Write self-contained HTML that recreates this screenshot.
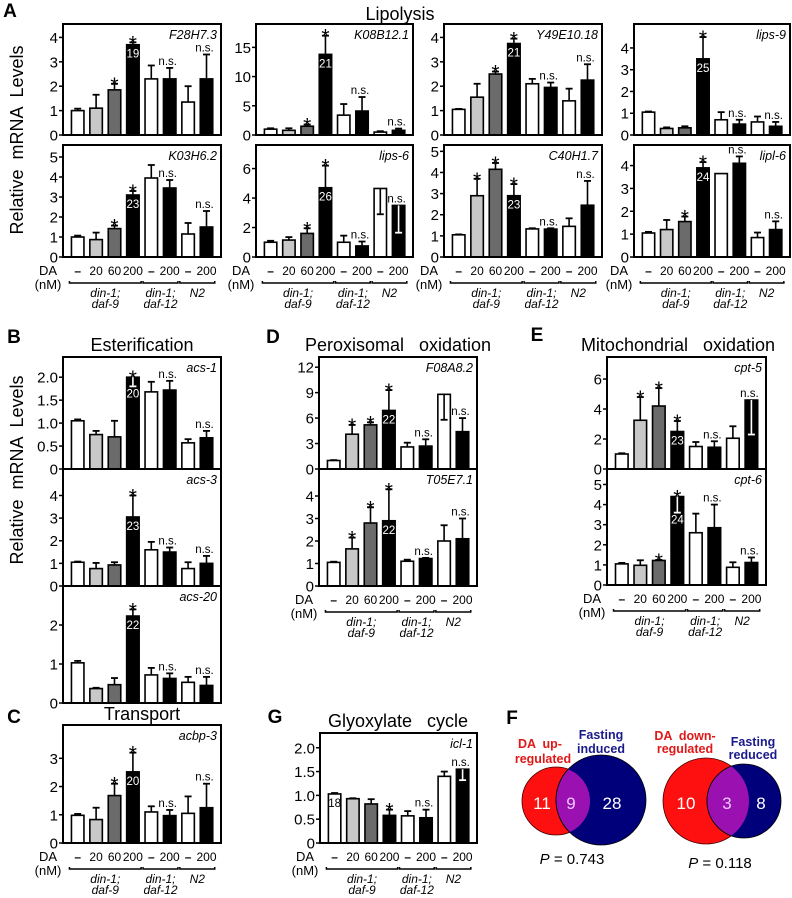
<!DOCTYPE html>
<html><head><meta charset="utf-8">
<style>
html,body{margin:0;padding:0;background:#fff;}
svg{display:block;font-family:"Liberation Sans",Arial,sans-serif;}
.pre{white-space:pre;}
</style></head>
<body>
<svg id="fig" width="792" height="898" viewBox="0 0 792 898" xmlns="http://www.w3.org/2000/svg"></svg>
<script>
// ---- data arrays ----
const f28Values=[1.0,1.1,1.85,3.7,2.3,2.3,1.35,2.3];
const f28Errors=[0.08,0.55,0.25,0.1,0.55,0.45,0.65,1.0];
const k08Values=[1.0,0.8,1.5,13.8,3.4,4.1,0.5,0.8];
const k08Errors=[0.15,0.35,0.3,3.2,1.9,2.4,0.15,0.3];
const y49Values=[1.05,1.55,2.5,3.75,2.1,1.95,1.4,2.25];
const y49Errors=[0.02,0.55,0.1,0.2,0.2,0.2,0.5,0.65];
const lips9Values=[1.05,0.3,0.33,3.5,0.7,0.5,0.6,0.4];
const lips9Errors=[0.03,0.05,0.07,1.0,0.35,0.2,0.25,0.2];
const k03Values=[1.0,0.87,1.42,3.1,3.95,3.45,1.15,1.5];
const k03Errors=[0.07,0.35,0.15,0.2,0.65,0.4,0.55,0.8];
const lips6Values=[1.0,1.15,1.6,4.7,1.0,0.75,4.65,3.5];
const lips6Errors=[0.1,0.2,0.35,1.5,0.45,0.3,-1.75,-1.85];
const c40Values=[1.05,2.9,4.15,2.9,1.33,1.32,1.45,2.45];
const c40Errors=[0.02,0.8,0.3,0.55,0.03,0.04,0.38,1.15];
const lipl6Values=[1.05,1.2,1.55,3.9,3.65,4.1,0.85,1.2];
const lipl6Errors=[0.05,0.42,0.22,0.25,0.0,0.3,0.22,0.36];
const acs1Values=[1.05,0.75,0.7,2.0,1.68,1.72,0.57,0.68];
const acs1Errors=[0.03,0.08,0.35,-0.2,0.22,0.2,0.08,0.15];
const acs3Values=[1.05,0.77,0.93,3.05,1.6,1.5,0.77,1.0];
const acs3Errors=[0.03,0.25,0.12,0.95,0.35,0.2,0.28,0.33];
const acs20Values=[1.03,0.37,0.47,2.23,0.72,0.63,0.53,0.45];
const acs20Errors=[0.05,0.02,0.17,0.17,0.18,0.13,0.14,0.22];
const acbp3Values=[0.98,0.83,1.68,2.52,1.1,0.97,1.05,1.25];
const acbp3Errors=[0.05,0.42,0.42,0.68,0.2,0.2,0.6,0.85];
const f08Values=[1.0,4.1,5.2,6.9,2.6,2.7,8.8,4.4];
const f08Errors=[0.05,1.1,0.3,2.4,0.5,0.8,-3.0,1.6];
const t05Values=[1.05,1.65,2.8,2.9,1.1,1.22,2.0,2.1];
const t05Errors=[0.03,0.5,0.7,1.4,0.07,0.03,0.7,0.9];
const cpt5Values=[1.0,3.25,4.2,2.5,1.5,1.45,2.05,4.6];
const cpt5Errors=[0.05,1.55,1.2,0.7,0.3,0.4,0.8,-2.3];
const cpt6Values=[1.05,0.98,1.22,4.4,2.6,2.85,0.88,1.12];
const cpt6Errors=[0.05,0.25,0.03,-0.8,0.95,1.15,0.25,0.25];
const icl1Values=[1.03,0.93,0.82,0.58,0.57,0.53,1.4,1.55];
const icl1Errors=[0.02,0.01,0.1,0.12,0.1,0.17,0.1,-0.23];

const ticks0to4=[0,1,2,3,4];
const ticks0to5=[0,1,2,3,4,5];
const ticksK08=[0,5,10,15];
const ticksEven6=[0,2,4,6];
const ticksHalf=[0,0.5,1,1.5,2];
const halfLabels=['0','0.5','1.0','1.5','2.0'];
const ticksF08=[0,3,6,9,12];
const ticks0to3=[0,1,2,3];
const ticks0to2=[0,1,2];

const doseLabels=['–','20','60','200','–','200','–','200'];
const barFills=['#fff','#c8c8c8','#6b6b6b','#000','#fff','#000','#fff','#000'];

const marksStd=['','','*','*','','n.s.','','n.s.'];
const marksNo3=['','','','*','','n.s.','','n.s.'];
const marks234=['','*','*','*','','n.s.','','n.s.'];
const marksG=['','','','*','','n.s.','','n.s.'];

const venn1Counts=['11','9','28'];
const venn2Counts=['10','3','8'];

// ---- drawing ----
const svg=document.getElementById('fig');
const NS='http://www.w3.org/2000/svg';
function mk(tag,attrs,parent){const e=document.createElementNS(NS,tag);for(const k in attrs)e.setAttribute(k,attrs[k]);(parent||svg).appendChild(e);return e;}
function txt(str,x,y,size,opts,parent){const t=mk('text',Object.assign({x:x,y:y,'font-size':size,'text-anchor':'middle'},opts||{}),parent);t.textContent=str;return t;}

function inner(i,label){const a=['','','','','','','',''];a[i]=label;return a;}

const panels=[
 {id:'f28h7-3',gene:'F28H7.3',x:63,y:24,w:158,h:111,ymax:4.55,ticks:ticks0to4,vals:f28Values,errs:f28Errors,marks:marksStd,inner:inner(3,'19')},
 {id:'k08b12-1',gene:'K08B12.1',x:256,y:24,w:157,h:111,ymax:19,ticks:ticksK08,vals:k08Values,errs:k08Errors,marks:marksStd,inner:inner(3,'21')},
 {id:'y49e10-18',gene:'Y49E10.18',x:444,y:24,w:158,h:111,ymax:4.55,ticks:ticks0to4,vals:y49Values,errs:y49Errors,marks:marksStd,inner:inner(3,'21')},
 {id:'lips-9',gene:'lips-9',x:634,y:24,w:156,h:111,ymax:5.1,ticks:ticks0to4,vals:lips9Values,errs:lips9Errors,marks:marksNo3,inner:inner(3,'25')},
 {id:'k03h6-2',gene:'K03H6.2',x:63,y:145,w:158,h:112,ymax:5.6,ticks:ticks0to5,vals:k03Values,errs:k03Errors,marks:marksStd,inner:inner(3,'23'),xaxis:true},
 {id:'lips-6',gene:'lips-6',x:256,y:145,w:157,h:112,ymax:7.6,ticks:ticksEven6,vals:lips6Values,errs:lips6Errors,marks:marksStd,inner:inner(3,'26'),xaxis:true},
 {id:'c40h1-7',gene:'C40H1.7',x:444,y:145,w:158,h:112,ymax:5.3,ticks:ticks0to5,vals:c40Values,errs:c40Errors,marks:marks234,inner:inner(3,'23'),xaxis:true},
 {id:'lipl-6',gene:'lipl-6',x:634,y:145,w:156,h:112,ymax:4.9,ticks:ticks0to4,vals:lipl6Values,errs:lipl6Errors,marks:marksStd,inner:inner(3,'24'),xaxis:true},
 {id:'acs-1',gene:'acs-1',x:63,y:357,w:158,h:112,ymax:2.44,ticks:ticksHalf,tickLabels:halfLabels,vals:acs1Values,errs:acs1Errors,marks:marksNo3,inner:inner(3,'20')},
 {id:'acs-3',gene:'acs-3',x:63,y:469,w:158,h:117,ymax:5.17,ticks:ticks0to4,vals:acs3Values,errs:acs3Errors,marks:marksNo3,inner:inner(3,'23')},
 {id:'acs-20',gene:'acs-20',x:63,y:586,w:158,h:117,ymax:3.0,ticks:ticks0to2,vals:acs20Values,errs:acs20Errors,marks:marksNo3,inner:inner(3,'22')},
 {id:'acbp-3',gene:'acbp-3',x:63,y:725,w:158,h:118,ymax:4.18,ticks:ticks0to3,vals:acbp3Values,errs:acbp3Errors,marks:marksStd,inner:inner(3,'20'),xaxis:true},
 {id:'f08a8-2',gene:'F08A8.2',x:319,y:357,w:158,h:112,ymax:13.2,ticks:ticksF08,vals:f08Values,errs:f08Errors,marks:marks234,inner:inner(3,'22')},
 {id:'t05e7-1',gene:'T05E7.1',x:319,y:469,w:158,h:117,ymax:5.2,ticks:ticks0to4,vals:t05Values,errs:t05Errors,marks:marks234,inner:inner(3,'22'),xaxis:true},
 {id:'cpt-5',gene:'cpt-5',x:607,y:357,w:159,h:112,ymax:7.47,ticks:ticksEven6,vals:cpt5Values,errs:cpt5Errors,marks:marks234,inner:inner(3,'23')},
 {id:'cpt-6',gene:'cpt-6',x:607,y:469,w:159,h:116,ymax:5.77,ticks:ticks0to5,vals:cpt6Values,errs:cpt6Errors,marks:marksStd,inner:inner(3,'24'),xaxis:true},
 {id:'icl-1',gene:'icl-1',x:320,y:733,w:157,h:110,ymax:2.31,ticks:ticksHalf,tickLabels:halfLabels,vals:icl1Values,errs:icl1Errors,marks:marksG,inner:inner(0,'18'),xaxis:true}
];

function drawPanel(p){
 const g=mk('g',{});
 
 
 const yS=v=>p.y+p.h-v/p.ymax*p.h;
 const k=p.w/158;
 const xC=i=>p.x+14.7*k+i*18.4*k;
 const bw=12.5*k;
 p.ticks.forEach((t,j)=>{
  const yy=yS(t);
  const tl=mk('line',{x1:p.x-4,x2:p.x,y1:yy,y2:yy,stroke:'#000','stroke-width':1.5},g);
  
  
  const lab=p.tickLabels?p.tickLabels[j]:String(t);
  const tt=txt(lab,p.x-5,yy+5.5,15,{'text-anchor':'end'},g);
  
  
 });
 p.vals.forEach((v,i)=>{
  const top=yS(v),base=yS(0);
  const r=mk('rect',{x:xC(i)-bw/2,y:top,width:bw,height:base-top,fill:barFills[i],stroke:'#000','stroke-width':1.6},g);
  
  
  const e=p.errs[i];
  const ey=yS(v+e);
  const ecol=(e<0)?((barFills[i]==='#000')?'#fff':'#000'):'#000';
  if(Math.abs(e)>0.0001){
   const el1=mk('line',{x1:xC(i),x2:xC(i),y1:top,y2:ey,stroke:ecol,'stroke-width':1.6},g);
   
   
   const el2=mk('line',{x1:xC(i)-3.5,x2:xC(i)+3.5,y1:ey,y2:ey,stroke:ecol,'stroke-width':1.8},g);
   
   
  }
  const markTop=Math.min(top,ey);
  const m=p.marks[i];
  if(m==='*'){
   const s=txt('*',xC(i),markTop+8,21,{},g);
   
   
  } else if(m==='n.s.'){
   const s=txt('n.s.',xC(i)-2,markTop-3,11.5,{},g);
   
   
  }
  if(p.inner[i]){
   const iy=(e<0)?Math.max(ey,top)+11:top+13;
   const col=barFills[i]==='#000'?'#fff':'#000';
   const s=txt(p.inner[i],xC(i),iy,11.5,{fill:col},g);
   
   
  }
 });
 const b=mk('rect',{x:p.x,y:p.y,width:p.w,height:p.h,fill:'none',stroke:'#000','stroke-width':2},g);
 
 
 const gn=txt(p.gene,p.x+p.w-4,p.y+15,12.5,{'text-anchor':'end','font-style':'italic'},g);
 
 
 if(p.xaxis){
  const base=p.y+p.h;
  const da=txt('DA',p.x-15,base+18,13,{},g);
  
  
  const nm=txt('(nM)',p.x-15,base+32,13,{},g);
  
  
  doseLabels.forEach((d,i)=>{
   const t=txt(d,xC(i),base+18,12,d==='–'?{'font-weight':'bold'}:{},g);
   
   
  });
  const groups=[[0,3,['din-1;','daf-9']],[4,5,['din-1;','daf-12']],[6,7,['N2']]];
  groups.forEach(gr=>{
   const x1=xC(gr[0])-bw/2-2,x2=xC(gr[1])+bw/2+2;
   const ln=mk('path',{d:`M${x1},${base+24}L${x1},${base+26}L${x2},${base+26}L${x2},${base+24}`,fill:'none',stroke:'#000','stroke-width':1.5},g);
   
   
   gr[2].forEach((s,j)=>{
    const t=txt(s,(x1+x2)/2,base+40+j*11,12,{'font-style':'italic'},g);
    
    
   });
  });
 }
}
panels.forEach(drawPanel);

const titles=[['Lipolysis',400,20],['Esterification',142,351],['Peroxisomal   oxidation',398,351],['Mitochondrial   oxidation',678,351],['Transport',142,720],['Glyoxylate   cycle',398,727]];
titles.forEach(t=>{
 const e=txt(t[0],t[1],t[2],18,{class:'pre'});
 
 
});
const letters=[['A',10,17],['B',14,343],['D',273,343],['E',537,341],['C',14,723],['G',275,723],['F',512,724]];
letters.forEach(t=>{
 const e=txt(t[0],t[1],t[2],19,{'font-weight':'bold'});
 
 
});
[[23,140],[23,470]].forEach(p=>{
 const e=txt('Relative  mRNA  Levels',0,0,18,{transform:`translate(${p[0]},${p[1]}) rotate(-90)`,class:'pre'});
 
 
});

function venn(cfg){
 const g=mk('g',{});
 
 
 const id=cfg.name+'-clip';
 const cp=mk('clipPath',{id:id},g);
 mk('circle',{cx:cfg.rc[0],cy:cfg.rc[1],r:cfg.rc[2]},cp);
 const rc=mk('circle',{cx:cfg.rc[0],cy:cfg.rc[1],r:cfg.rc[2],fill:'#ff1010',stroke:'#400','stroke-width':0.8},g);
 
 
 const bc=mk('circle',{cx:cfg.bc[0],cy:cfg.bc[1],r:cfg.bc[2],fill:'#00007a',stroke:'#000','stroke-width':0.8},g);
 
 
 const ov=mk('circle',{cx:cfg.bc[0],cy:cfg.bc[1],r:cfg.bc[2],fill:'#9a10b0','clip-path':`url(#${id})`,stroke:'#000','stroke-width':0.8},g);
 
 
 cfg.counts.forEach((c,i)=>{
  const t=txt(c,cfg.numX[i],cfg.numY,17,{fill:i===1?'#f0c8ff':'#fff'},g);
  
  
 });
 cfg.labels.forEach(l=>{
  const t=txt(l[0],l[1],l[2],12.5,{fill:l[3],'font-weight':'bold',class:'pre'},g);
  
  
 });
 const pt=mk('text',{x:cfg.p[0],y:cfg.p[1],'font-size':15,'text-anchor':'middle'},g);
 pt.innerHTML='<tspan font-style="italic">P</tspan> = '+cfg.p[2];
 
 
}
venn({name:'venn-upregulated',rc:[556,801,34],bc:[601,800,45],counts:venn1Counts,numX:[542,571,612],numY:809,
 labels:[['DA  up-',540,748,'#e01818'],['regulated',543,763,'#e01818'],['Fasting',601,739,'#1a1a8a'],['induced',601,753,'#1a1a8a']],p:[572,864,'0.743']});
venn({name:'venn-downregulated',rc:[706,801,43],bc:[744,801,37],counts:venn2Counts,numX:[686,727,761],numY:809,
 labels:[['DA  down-',685,740,'#e01818'],['regulated',685,753,'#e01818'],['Fasting',753,746,'#1a1a8a'],['reduced',753,759,'#1a1a8a']],p:[720,868,'0.118']});
</script>
</body></html>
